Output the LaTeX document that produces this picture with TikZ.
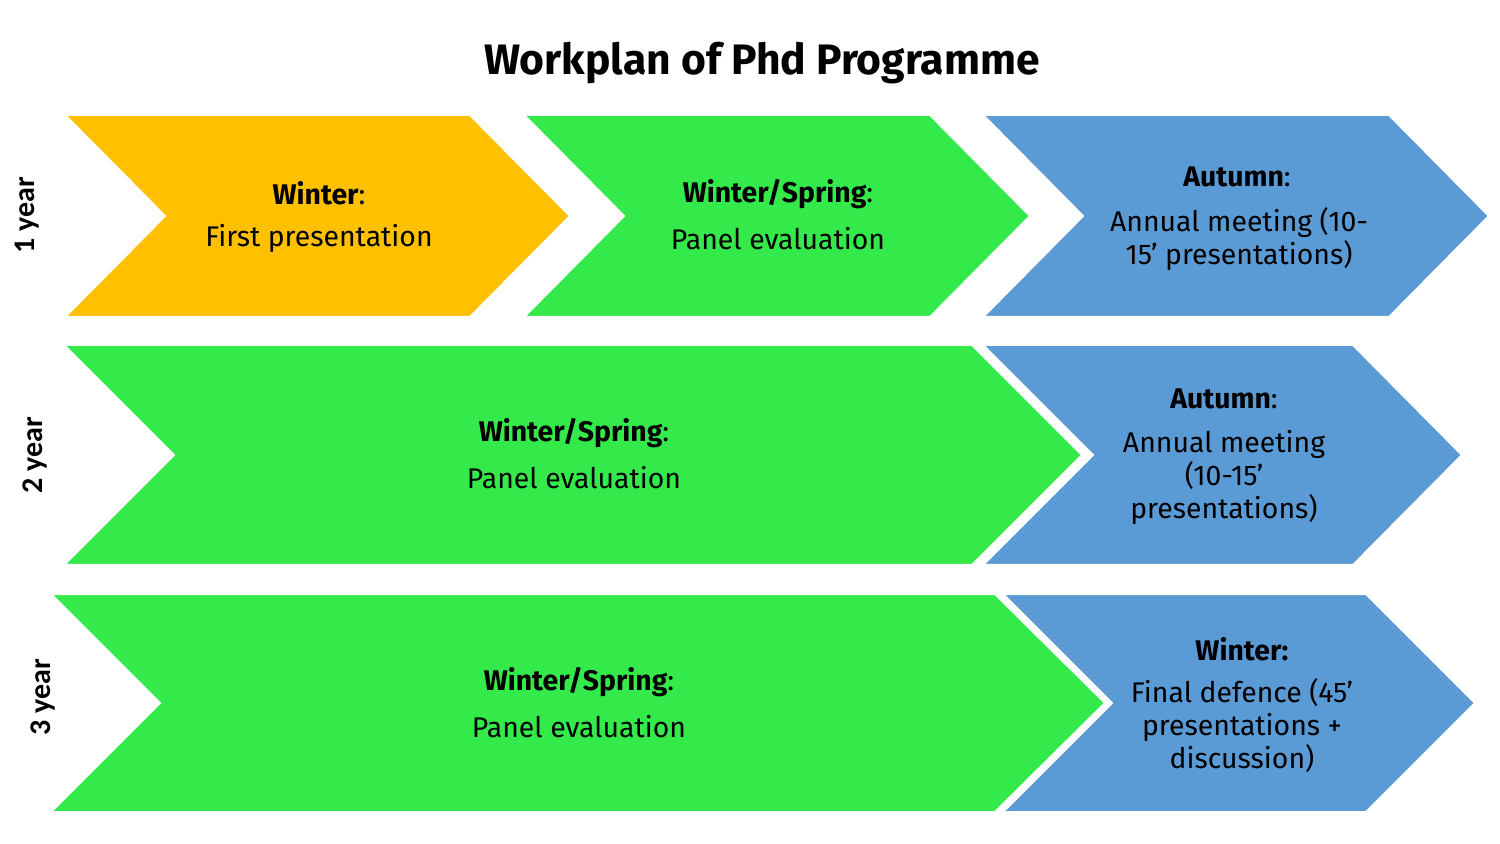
\documentclass[tikz,border=0pt]{standalone}
\usepackage{fontspec}
\setmainfont{Fira Sans}
\newfontfamily\yearfont{Carlito}
\definecolor{yel}{HTML}{FFC000}
\definecolor{grn}{HTML}{33EA4A}
\definecolor{blu}{HTML}{5B9BD5}
\begin{document}
\begin{tikzpicture}[x=0.5pt,y=-0.5pt,
  head/.style={font=\fontsize{14.2}{16.5}\selectfont, anchor=center, inner sep=0pt},
  body/.style={font=\fontsize{14.2}{16.5}\selectfont, align=center, anchor=center, inner sep=0pt},
  yearlbl/.style={font=\yearfont\bfseries\fontsize{15}{16}\selectfont, rotate=90, anchor=center, inner sep=0pt},
  chev/.style={draw=white, line width=1pt}]
\useasboundingbox (0,0) rectangle (1500,844);
% title
\node[font=\bfseries\fontsize{21.3}{24}\selectfont, inner sep=0pt] (title) at (762,63) {Workplan of Phd Programme};
% row 1
\fill[yel, chev] (65,115) -- (470,115) -- (570,216) -- (470,317) -- (65,317) -- (165,216) -- cycle;
\fill[grn, chev] (524,115) -- (930,115) -- (1030,216) -- (930,317) -- (524,317) -- (624,216) -- cycle;
\fill[blu, chev] (983,115) -- (1389,115) -- (1489,216) -- (1389,317) -- (983,317) -- (1083,216) -- cycle;
% row 2
\fill[grn, chev] (64,345) -- (972,345) -- (1082,455) -- (972,565) -- (64,565) -- (174,455) -- cycle;
\fill[blu, chev] (983,345) -- (1353,345) -- (1462,455) -- (1353,565) -- (983,565) -- (1093,455) -- cycle;
% row 3
\fill[grn, chev] (51,594) -- (995,594) -- (1105,703) -- (995,812) -- (51,812) -- (160,703) -- cycle;
\fill[blu, chev] (1003,594) -- (1366,594) -- (1475,703) -- (1366,812) -- (1003,812) -- (1112,703) -- cycle;
% year labels
\node[yearlbl] (y1) at (27,215) {1 year};
\node[yearlbl] (y2) at (35,455) {2 year};
\node[yearlbl] (y3) at (43,697) {3 year};
% row 1 texts
\node[head] (h11) at (319,193) {\textbf{Winter}:};
\node[body] (b11) at (319,238) {First presentation};
\node[head] (h12) at (778,194) {\textbf{Winter/Spring}:};
\node[body] (b12) at (778,239) {Panel evaluation};
\node[head] (h13) at (1237,177) {\textbf{Autumn}:};
\node[body] (b13) at (1239,239) {Annual meeting (10-\\15' presentations)};
% row 2 texts
\node[head] (h21) at (574,433) {\textbf{Winter/Spring}:};
\node[body] (b21) at (574,478) {Panel evaluation};
\node[head] (h22) at (1224,399) {\textbf{Autumn}:};
\node[body] (b22) at (1224,477) {Annual meeting\\(10-15'\\presentations)};
% row 3 texts
\node[head] (h31) at (579,682) {\textbf{Winter/Spring}:};
\node[body] (b31) at (579,727) {Panel evaluation};
\node[head] (h32) at (1242,649) {\textbf{Winter:}};
\node[body] (b32) at (1242,726) {Final defence (45’\\presentations +\\discussion)};
\end{tikzpicture}
\end{document}
